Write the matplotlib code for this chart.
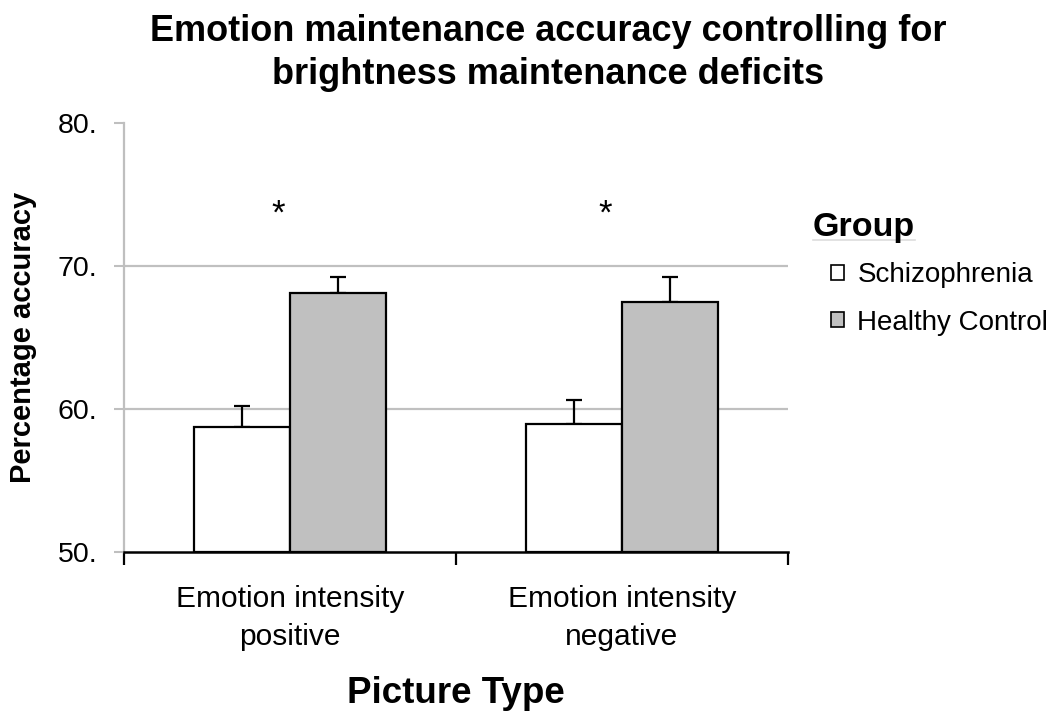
import matplotlib
matplotlib.use("Agg")
import matplotlib.pyplot as plt
from matplotlib.patches import Patch
from matplotlib.lines import Line2D
import numpy as np

plt.rcParams['font.family'] = ['Liberation Sans', 'DejaVu Sans']

categories = ["Emotion intensity\npositive", "Emotion intensity\nnegative"]
groups = ["Schizophrenia", "Healthy Control"]
schizo_means = [58.72, 58.91]
schizo_err = [1.47, 1.72]
healthy_means = [68.11, 67.46]
healthy_err = [1.10, 1.73]
yticks = [50, 60, 70, 80]
ytick_labels = ["50.", "60.", "70.", "80."]
gridlines = [60, 70]
sig_marks = ["*", "*"]

fig = plt.figure(figsize=(10.5, 7.19), dpi=100)
ax = fig.add_axes([124/1050, 1-551.7/719, (788-124)/1050, (551.7-122.7)/719])

x = np.arange(len(categories))
w = 0.288
ax.bar(x - w, [m - 50 for m in schizo_means], width=w, bottom=50, align='edge',
       color='white', edgecolor='black', linewidth=1.6, zorder=3)
ax.bar(x, [m - 50 for m in healthy_means], width=w, bottom=50, align='edge',
       color='#c0c0c0', edgecolor='black', linewidth=1.6, zorder=3)
ax.errorbar(x - w/2, schizo_means, yerr=[np.zeros(2), schizo_err], fmt='none',
            ecolor='black', elinewidth=1.6, capsize=5.5, capthick=1.6, zorder=2)
ax.errorbar(x + w/2, healthy_means, yerr=[np.zeros(2), healthy_err], fmt='none',
            ecolor='black', elinewidth=1.6, capsize=5.5, capthick=1.6, zorder=2)

for y in gridlines:
    ax.axhline(y, color='#c0c0c0', linewidth=1.6, zorder=1)

for xi, s, dx in zip(x, sig_marks, [-0.035, -0.05]):
    ax.text(xi + dx, 73.6, s, ha='center', va='center', fontsize=25)

ax.set_xlim(-0.5, len(categories) - 0.5)
ax.set_ylim(50, 80)
ax.set_yticks(yticks)
ax.set_yticklabels(ytick_labels, fontsize=20.5)
ax.tick_params(axis='y', direction='out', length=7, width=1.5, color='#bfbfbf', pad=12)

ax.set_xticks(np.arange(len(categories) + 1) - 0.5)
ax.set_xticklabels([])
ax.tick_params(axis='x', which='major', direction='out', length=9, width=1.6, color='black')
ax.set_xticks(x, minor=True)
ax.set_xticklabels(categories, minor=True, fontsize=21.5, linespacing=1.45)
ax.tick_params(axis='x', which='minor', length=0, pad=24)

for s in ['top', 'right']:
    ax.spines[s].set_visible(False)
ax.spines['left'].set_color('#bfbfbf')
ax.spines['left'].set_linewidth(1.6)
ax.spines['bottom'].set_color('black')
ax.spines['bottom'].set_linewidth(1.8)
ax.spines['bottom'].set_zorder(4)

ax.set_ylabel("Percentage accuracy", fontsize=21, fontweight='bold')
ax.yaxis.set_label_coords(-87/664, 0.5)
ax.set_xlabel("Picture Type", fontsize=26.5, fontweight='bold')
ax.xaxis.set_label_coords(0.5, -(676-551.7)/429)

fig.text(548/1050, 1-53/719, "Emotion maintenance accuracy controlling for\nbrightness maintenance deficits",
         ha='center', va='center', fontsize=26, fontweight='bold', linespacing=1.3)

fig.text(813/1050, 1-228/719, "Group", ha='left', va='center', fontsize=24.5, fontweight='bold')
fig.add_artist(Line2D([813/1050, 915/1050], [1-240/719, 1-240/719], color='#dddddd', linewidth=1.2))

handles = [Patch(facecolor='white', edgecolor='black', linewidth=1.2),
           Patch(facecolor='#c0c0c0', edgecolor='black', linewidth=1.2)]
leg = ax.legend(handles, groups, loc='upper left', bbox_to_anchor=(831/1050, 1-262/719),
                bbox_transform=fig.transFigure, frameon=False, fontsize=20,
                handlelength=0.45, handleheight=0.45, handletextpad=0.5,
                labelspacing=0.78, borderaxespad=0, borderpad=0)

fig.savefig("out.png", dpi=100)
